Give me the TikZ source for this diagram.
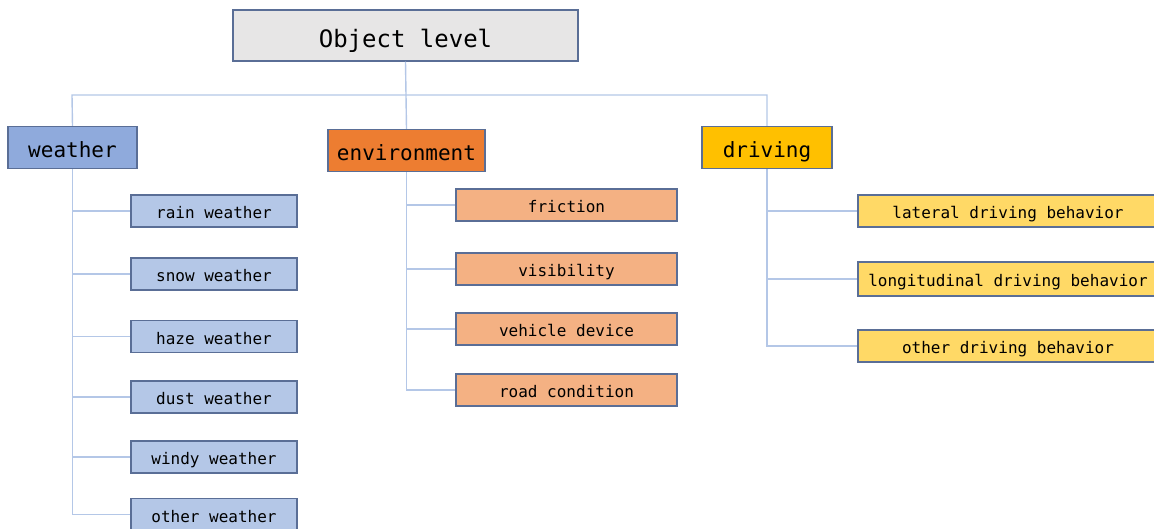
\documentclass[tikz,border=0pt]{standalone}
\usepackage{fontspec}
\setmonofont{DejaVu Sans Mono}
\definecolor{boxline}{HTML}{5A6E96}
\definecolor{linkc}{HTML}{B4C7E7}
\definecolor{rootfill}{HTML}{E7E6E6}
\definecolor{wfill}{HTML}{8FAADC}
\definecolor{efill}{HTML}{ED7D31}
\definecolor{dfill}{HTML}{FFC000}
\definecolor{wsub}{HTML}{B4C7E7}
\definecolor{esub}{HTML}{F4B183}
\definecolor{dsub}{HTML}{FFD966}
\tikzset{
  box/.style={draw=boxline, line width=1.3pt, inner sep=0pt, text depth=0pt, font=\ttfamily},
  rootbox/.style={box, fill=rootfill, minimum width=345pt, minimum height=51pt, text height=24.8pt, font=\ttfamily\fontsize{24}{28}\selectfont},
  catbox/.style={box, minimum height=42pt, text height=19.7pt, font=\ttfamily\fontsize{21}{25}\selectfont},
  leafbox/.style={box, minimum height=32pt, text height=15.2pt, font=\ttfamily\fontsize{16}{19}\selectfont},
  link/.style={draw=linkc, line width=1.4pt},
}
\begin{document}
\begin{tikzpicture}[x=1pt, y=-1pt]
\useasboundingbox (0,0) rectangle (1154,529);

% top level
\node[rootbox] (root) at (405.5,35.5) {Object level};

% categories
\node[catbox, fill=wfill, minimum width=129pt] (weather) at (72.5,147.5) {weather};
\node[catbox, fill=efill, minimum width=157pt] (env) at (406.5,150.5) {environment};
\node[catbox, fill=dfill, minimum width=130pt] (driving) at (767,147.5) {driving};

% weather items
\node[leafbox, fill=wsub, minimum width=166pt] (w1) at (214,211) {rain weather};
\node[leafbox, fill=wsub, minimum width=166pt] (w2) at (214,274) {snow weather};
\node[leafbox, fill=wsub, minimum width=166pt] (w3) at (214,336.5) {haze weather};
\node[leafbox, fill=wsub, minimum width=166pt] (w4) at (214,397) {dust weather};
\node[leafbox, fill=wsub, minimum width=166pt] (w5) at (214,457) {windy weather};
\node[leafbox, fill=wsub, minimum width=166pt] (w6) at (214,514.5) {other weather};

% environment items
\node[leafbox, fill=esub, minimum width=221pt] (e1) at (566.5,205) {friction};
\node[leafbox, fill=esub, minimum width=221pt] (e2) at (566.5,269) {visibility};
\node[leafbox, fill=esub, minimum width=221pt] (e3) at (566.5,329) {vehicle device};
\node[leafbox, fill=esub, minimum width=221pt] (e4) at (566.5,390) {road condition};

% driving items
\node[leafbox, fill=dsub, minimum width=300pt] (d1) at (1008,211) {lateral driving behavior};
\node[leafbox, fill=dsub, minimum width=300pt, minimum height=34pt] (d2) at (1008,279) {longitudinal driving behavior};
\node[leafbox, fill=dsub, minimum width=300pt] (d3) at (1008,346) {other driving behavior};

% bus from the top node
\coordinate (busL) at (72,95);
\coordinate (busR) at (767,95);
\draw[link] (weather.north) -- (busL) -- (busR) -- (driving.north);
\draw[link] (root.south) -- (env.north);

% branches to items
\foreach \i in {1,...,6} \draw[link] (weather.south) |- (w\i.west);
\foreach \i in {1,...,4} \draw[link] (env.south) |- (e\i.west);
\foreach \i in {1,...,3} \draw[link] (driving.south) |- (d\i.west);
\end{tikzpicture}
\end{document}
